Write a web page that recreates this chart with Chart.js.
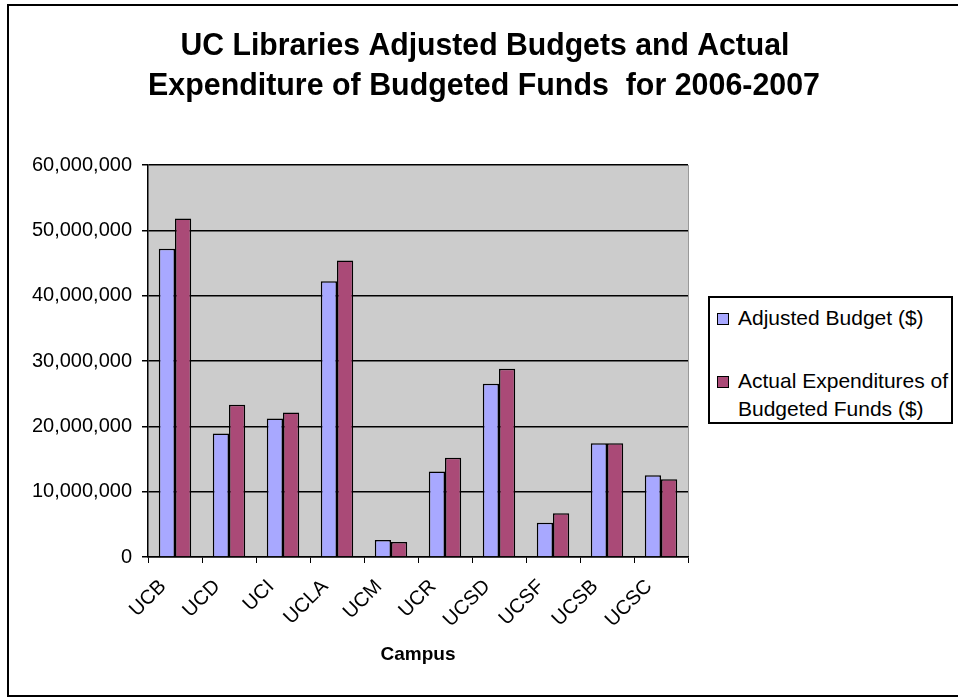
<!DOCTYPE html>
<html lang="en">
<head>
  <meta charset="UTF-8">
  <title>UC Libraries Adjusted Budgets and Actual Expenditure</title>
  <script src="https://cdn.jsdelivr.net/npm/chart.js"></script>
  <style>
    body { margin: 0; background: #fff; font-family: Arial, "Liberation Sans", sans-serif; }
    #wrap { position: relative; width: 958px; height: 698px; }
    #legend {
      position: absolute; left: 708px; top: 296px; width: 245px; height: 128px;
      border: 2px solid #000; background: #fff; box-sizing: border-box;
      font-size: 21px; color: #000; padding: 6px 0 0 7px;
    }
    .item { display: flex; align-items: flex-start; line-height: 28px; margin-bottom: 35px; }
    .item:last-child { margin-bottom: 0; }
    .swatch { width: 10px; height: 10px; border: 1px solid #000; margin: 9px 9px 0 0; flex: none; }
  </style>
</head>
<body>
  <div id="wrap">
    <canvas id="chart" width="958" height="698"></canvas>
    <div id="legend"></div>
  </div>

  <script>
    // chart data
    var campuses = ['UCB', 'UCD', 'UCI', 'UCLA', 'UCM', 'UCR', 'UCSD', 'UCSF', 'UCSB', 'UCSC'];
    var adjustedBudget = [47200000, 18900000, 21200000, 42200000, 2600000, 13100000, 26500000, 5250000, 17400000, 12500000];
    var actualExpenditures = [51800000, 23300000, 22100000, 45400000, 2300000, 15200000, 28800000, 6700000, 17400000, 11900000];
    var seriesNames = ['Adjusted Budget ($)', 'Actual Expenditures of Budgeted Funds ($)'];
    var seriesColors = ['#a8a8ff', '#aa4a77'];
    var yTicks = [0, 10000000, 20000000, 30000000, 40000000, 50000000, 60000000];
    var titleLines = ['UC Libraries Adjusted Budgets and Actual', 'Expenditure of Budgeted Funds  for 2006-2007'];

    // gray plot background, title over the whole picture and the outer frame
    var backdrop = {
      id: 'backdrop',
      beforeDraw: function(chart) {
        var c = chart.ctx, a = chart.chartArea;
        c.save();
        c.fillStyle = '#cccccc';
        c.fillRect(a.left, a.top, a.right - a.left, a.bottom - a.top);
        c.strokeStyle = '#999';
        c.lineWidth = 1;
        c.beginPath();
        c.moveTo(a.right + 0.5, a.top);
        c.lineTo(a.right + 0.5, a.bottom);
        c.stroke();
        c.restore();
      },
      afterDraw: function(chart) {
        var c = chart.ctx;
        c.save();
        c.fillStyle = '#000';
        c.font = 'bold 32px Arial, "Liberation Sans", sans-serif';
        c.textAlign = 'center';
        c.textBaseline = 'alphabetic';
        c.fillText(titleLines[0], 485, 55, 609);
        c.fillText(titleLines[1], 484, 95, 672);
        c.strokeStyle = '#000';
        c.lineWidth = 2;
        c.strokeRect(8, 5, 1000, 691);
        c.restore();
      }
    };

    Chart.defaults.font.family = 'Arial, "Liberation Sans", sans-serif';
    Chart.defaults.color = '#000';

    new Chart(document.getElementById('chart').getContext('2d'), {
      type: 'bar',
      data: {
        labels: campuses,
        datasets: [
          { label: seriesNames[0], data: adjustedBudget, backgroundColor: seriesColors[0] },
          { label: seriesNames[1], data: actualExpenditures, backgroundColor: seriesColors[1] }
        ]
      },
      options: {
        responsive: false,
        animation: false,
        layout: { padding: { left: 18, right: 270, top: 165, bottom: 32 } },
        datasets: {
          bar: { categoryPercentage: 0.6, barPercentage: 1.0, borderColor: '#000', borderWidth: 1.5 }
        },
        plugins: {
          legend: { display: false },
          tooltip: { enabled: false },
          title: { display: false }
        },
        scales: {
          x: {
            grid: { display: true, drawOnChartArea: false, offset: true, color: '#000', tickLength: 6, tickColor: '#000' },
            border: { color: '#000', width: 1.5 },
            ticks: { font: { size: 20 }, maxRotation: 45, minRotation: 45, padding: 12, labelOffset: -12 },
            title: { display: true, text: 'Campus', font: { size: 19, weight: 'bold' }, padding: { top: 10, bottom: 0 } },
            afterFit: function(s) { s.height = 109; }
          },
          y: {
            min: 0, max: 60000000,
            afterBuildTicks: function(s) { s.ticks = yTicks.map(function(v) { return { value: v }; }); },
            grid: { color: '#000', lineWidth: 1.5, tickLength: 6, tickColor: '#000' },
            border: { color: '#000', width: 1.5 },
            ticks: {
              font: { size: 20 }, padding: 10,
              callback: function(v) { return v.toLocaleString('en-US'); }
            },
            afterFit: function(s) { s.width = 130; }
          }
        }
      },
      plugins: [backdrop]
    });

    // html legend built from the series arrays
    var legend = document.getElementById('legend');
    seriesNames.forEach(function(name, i) {
      var row = document.createElement('div');
      row.className = 'item';
      var sw = document.createElement('span');
      sw.className = 'swatch';
      sw.style.background = seriesColors[i];
      var tx = document.createElement('span');
      tx.textContent = name;
      row.appendChild(sw);
      row.appendChild(tx);
      legend.appendChild(row);
    });
  </script>
</body>
</html>
